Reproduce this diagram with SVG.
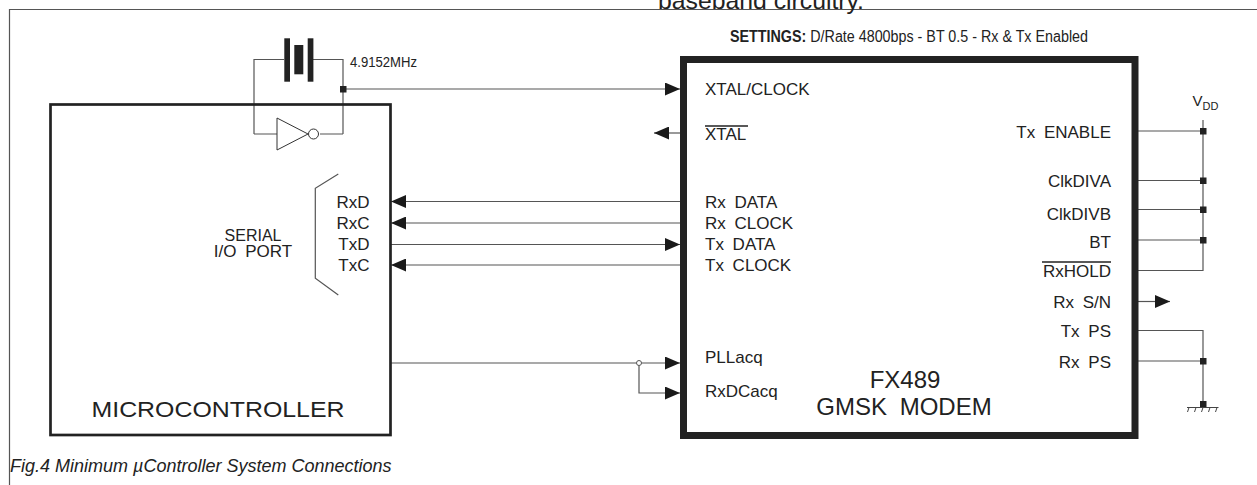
<svg xmlns="http://www.w3.org/2000/svg" width="1257" height="485" viewBox="0 0 1257 485">
<style>
.t{font-family:"Liberation Sans",Arial,Helvetica,sans-serif;fill:#222}
.s17{font-size:17px;word-spacing:4px}
.w{stroke:#555;stroke-width:1.2;fill:none}
.dot{fill:#222}
.box{fill:none;stroke:#222}
</style>
<defs>
<marker id="ah" markerUnits="userSpaceOnUse" markerWidth="15" markerHeight="13" refX="15" refY="6.5" orient="auto" viewBox="0 0 15 13">
<path d="M0,0 L15,6.5 L0,13 z" fill="#1a1a1a"/>
</marker>
</defs>
<rect width="1257" height="485" fill="#fff"/>
<g id="frame">
<path d="M9.5,485 V9.5 H1257" class="w" stroke="#666"/>
<text class="t" x="658" y="9" font-size="24" textLength="206" lengthAdjust="spacingAndGlyphs">baseband circuitry.</text>
</g>
<g id="settings">
<text class="t" x="730" y="42" font-size="16" textLength="358" lengthAdjust="spacingAndGlyphs"><tspan font-weight="bold">SETTINGS:</tspan> D/Rate 4800bps - BT 0.5 - Rx &amp; Tx Enabled</text>
</g>
<g id="connectors">
<path class="w" d="M343,89 H680" marker-end="url(#ah)"/>
<path class="w" d="M680,133 H654" marker-end="url(#ah)"/>
<path class="w" d="M680,201.5 H391" marker-end="url(#ah)"/>
<path class="w" d="M680,223 H391" marker-end="url(#ah)"/>
<path class="w" d="M391,244.5 H680" marker-end="url(#ah)"/>
<path class="w" d="M680,265 H391" marker-end="url(#ah)"/>
<path class="w" d="M391,363 H680" marker-end="url(#ah)"/>
<path class="w" d="M639,363 V393 H680" marker-end="url(#ah)"/>
<circle cx="639" cy="363" r="2.5" fill="#fff" stroke="#555" stroke-width="1"/>
<path class="w" d="M1138,131 H1203"/>
<path class="w" d="M1138,180.5 H1203"/>
<path class="w" d="M1138,209.5 H1203"/>
<path class="w" d="M1138,240 H1203"/>
<path class="w" d="M1138,270.5 H1203 V120"/>
<path class="w" d="M1138,301.5 H1170" marker-end="url(#ah)"/>
<path class="w" d="M1138,330.5 H1203 V407"/>
<path class="w" d="M1138,361 H1203"/>
<rect class="dot" x="1200" y="128" width="6.5" height="6.5"/>
<rect class="dot" x="1200" y="177.5" width="6.5" height="6.5"/>
<rect class="dot" x="1200" y="206.5" width="6.5" height="6.5"/>
<rect class="dot" x="1200" y="237" width="6.5" height="6.5"/>
<rect class="dot" x="1200" y="358" width="6.5" height="6.5"/>
<rect class="dot" x="1200" y="401" width="6.5" height="6.5"/>
</g>
<g id="crystal">
<path class="w" d="M254,134 V59.5 H284 M313,59.5 H343 V134"/>
<rect class="dot" x="284.3" y="38.3" width="5.7" height="43.4"/>
<rect class="dot" x="294.3" y="45" width="9" height="29.3"/>
<rect class="dot" x="307.7" y="38.3" width="5.7" height="43.4"/>
<rect class="dot" x="340" y="86" width="6.5" height="6.5"/>
<text class="t" x="350" y="66.5" font-size="15" textLength="67" lengthAdjust="spacingAndGlyphs">4.9152MHz</text>
</g>
<g id="inverter">
<path class="w" d="M254,134 H277 M320,134 H343"/>
<path d="M277,118 L308,134 L277,150 z" fill="#fff" stroke="#333" stroke-width="1"/>
<circle cx="313.5" cy="134" r="5" fill="#fff" stroke="#333" stroke-width="1"/>
</g>
<g id="microcontroller">
<rect class="box" x="50.5" y="104.5" width="340" height="330.5" stroke-width="2.7"/>
<text class="t" x="91.5" y="416.5" font-size="22" textLength="253" lengthAdjust="spacingAndGlyphs">MICROCONTROLLER</text>
<path class="w" d="M338.3,174 L315.3,188.3 V278.3 L338.3,295" stroke="#444"/>
<text class="t" x="253" y="241" font-size="16" text-anchor="middle">SERIAL</text>
<text class="t s17" x="253" y="257" font-size="16" text-anchor="middle">I/O PORT</text>
<g class="t s17" text-anchor="end">
<text x="369.5" y="207.5">RxD</text>
<text x="369.5" y="229">RxC</text>
<text x="369.5" y="250">TxD</text>
<text x="369.5" y="271">TxC</text>
</g>
</g>
<g id="modem">
<rect class="box" x="683.5" y="59.5" width="451.5" height="376" stroke-width="7"/>
<g class="t s17">
<text x="705" y="95">XTAL/CLOCK</text>
<text x="705" y="140">XTAL</text>
<text x="705" y="208">Rx DATA</text>
<text x="705" y="229">Rx CLOCK</text>
<text x="705" y="250">Tx DATA</text>
<text x="705" y="271">Tx CLOCK</text>
<text x="705" y="363">PLLacq</text>
<text x="705" y="397">RxDCacq</text>
</g>
<path d="M705,126 H748" stroke="#222" stroke-width="1.3"/>
<g class="t s17" text-anchor="end">
<text x="1111" y="138">Tx ENABLE</text>
<text x="1111" y="186.5">ClkDIVA</text>
<text x="1111" y="220">ClkDIVB</text>
<text x="1111" y="248">BT</text>
<text x="1111" y="277">RxHOLD</text>
<text x="1111" y="308">Rx S/N</text>
<text x="1111" y="337">Tx PS</text>
<text x="1111" y="368">Rx PS</text>
</g>
<path d="M1042,262 H1111" stroke="#222" stroke-width="1.3"/>
<text class="t" x="905" y="388" font-size="24" text-anchor="middle">FX489</text>
<text class="t" x="904" y="415" font-size="24" text-anchor="middle" word-spacing="6">GMSK MODEM</text>
</g>
<g id="vdd">
<text class="t" x="1192.5" y="106" font-size="15">V<tspan font-size="11" dy="4">DD</tspan></text>
</g>
<g id="ground">
<path d="M1187,407.5 H1218.5 M1189,407.5 l-1.5,4.5 M1196,407.5 l-1.5,4.5 M1203,407.5 l-1.5,4.5 M1210,407.5 l-1.5,4.5 M1217,407.5 l-1.5,4.5" stroke="#444" stroke-width="1" fill="none"/>
</g>
<g id="caption">
<text class="t" x="10" y="472" font-size="18" font-style="italic">Fig.4 Minimum µController System Connections</text>
</g>
</svg>
